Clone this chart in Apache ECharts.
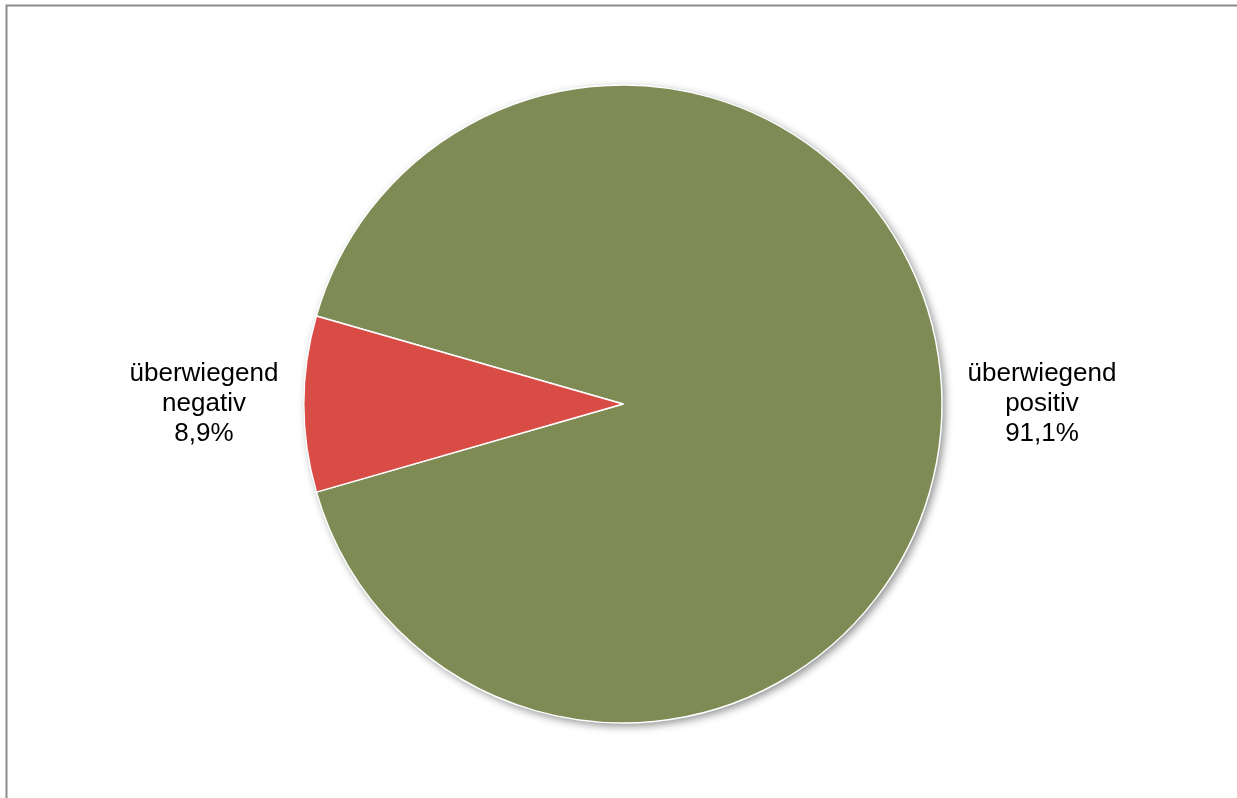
<!DOCTYPE html>
<html>
<head>
<meta charset="utf-8">
<script src="https://cdn.jsdelivr.net/npm/echarts@6/dist/echarts.min.js"></script>
<style>
html,body{margin:0;padding:0;background:#fff;}
#chart{width:1237px;height:798px;}
</style>
</head>
<body>
<div id="chart"></div>
<script>
const categories = ['überwiegend\npositiv', 'überwiegend\nnegativ'];
const values = [91.1, 8.9];
const labels = ['91,1%', '8,9%'];
const colors = ['#7f8b55', '#d94b45'];

const chart = echarts.init(document.getElementById('chart'), null, {renderer: 'canvas'});
const data = categories.map((c, i) => ({
  name: c,
  value: values[i],
  itemStyle: {color: colors[i]},
  label: {formatter: '{t|' + c + '\n' + labels[i] + '}'}
}));
const total = values.reduce((a, b) => a + b, 0);

chart.setOption({
  animation: false,
  backgroundColor: '#fff',
  graphic: [{
    type: 'rect',
    shape: {x: 6.5, y: 5.5, width: 1300, height: 900},
    style: {fill: 'none', stroke: '#8c8c8c', lineWidth: 2},
    silent: true
  }],
  series: [{
    type: 'pie',
    center: [623, 404],
    radius: 319,
    silent: true,
    z: 1,
    data: [{value: total, name: 'shadow'}],
    itemStyle: {
      color: '#7f8b55',
      shadowBlur: 8,
      shadowOffsetX: 3,
      shadowOffsetY: 3,
      shadowColor: 'rgba(0,0,0,0.45)'
    },
    label: {show: false},
    labelLine: {show: false},
    emphasis: {disabled: true}
  }, {
    type: 'pie',
    center: [623, 404],
    radius: 319,
    startAngle: 164,
    clockwise: true,
    z: 2,
    data: data,
    itemStyle: {
      borderColor: '#ffffff',
      borderWidth: 1.5
    },
    label: {
      show: true,
      position: 'outside',
      color: '#000',
      fontFamily: 'Liberation Sans, Arial, sans-serif',
      rich: {
        t: {
          fontFamily: 'Liberation Sans, Arial, sans-serif',
          fontSize: 26,
          lineHeight: 30,
          color: '#000',
          width: 150,
          align: 'center'
        }
      }
    },
    labelLine: {show: false, length: 20, length2: 0},
    emphasis: {disabled: true}
  }]
});
</script>
</body>
</html>
